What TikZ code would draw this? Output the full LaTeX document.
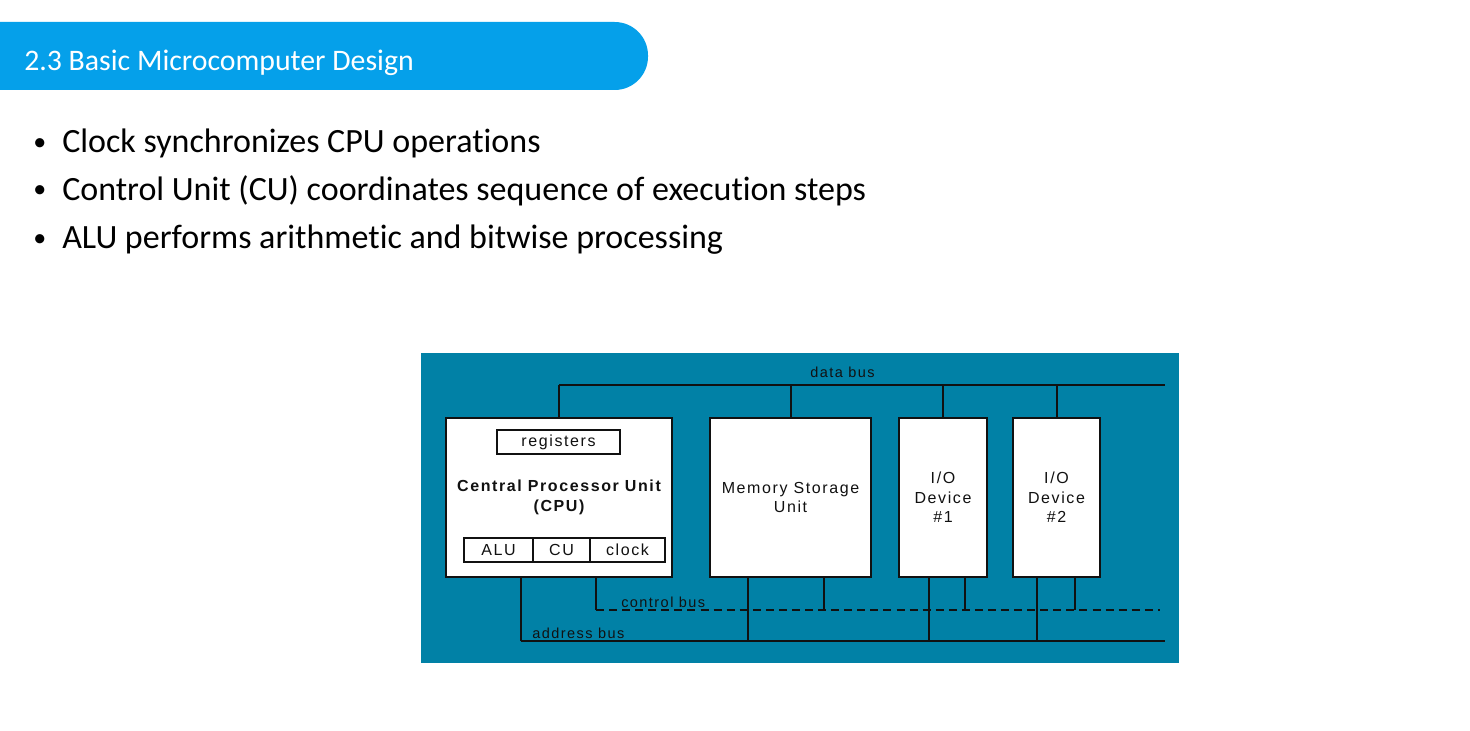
\documentclass[tikz,border=0pt]{standalone}
\usepackage{fontspec}
\setmainfont[Ligatures={NoCommon}]{Carlito}
\newfontfamily\diagfont[LetterSpace=10]{Liberation Sans}
\newfontfamily\diagfontbold[LetterSpace=10]{Liberation Sans Bold}
\definecolor{titleblue}{HTML}{05A0EA}
\definecolor{panel}{HTML}{0181A6}
\definecolor{ink}{HTML}{111111}
\newcommand{\pxsize}[1]{\fontsize{\fpeval{#1*0.75}pt}{\fpeval{#1*0.75*1.22}pt}\selectfont}
\begin{document}
\begin{tikzpicture}[x=0.75pt,y=-0.75pt,
  box/.style={draw=ink,fill=white,line width=1.5pt,inner sep=0pt,
    font=\diagfont\pxsize{16},align=center,text=ink},
  cell/.style={draw=ink,fill=white,line width=1.5pt,inner sep=0pt,
    minimum height=24*0.75pt,font=\diagfont\pxsize{16},text=ink},
  bus/.style={draw=ink,line width=1.5pt},
  ctlbus/.style={draw=ink,line width=1.5pt,dash pattern=on 6pt off 3.8pt},
  buslabel/.style={font=\diagfont\pxsize{14.5},text=ink,anchor=base west,inner sep=0pt},
  bullet/.style={font=\pxsize{34},text=black,anchor=base west,inner sep=0pt}]
\useasboundingbox (0,0) rectangle (1470,731);
\fill[white] (0,0) rectangle (1470,731);

% title bar
\fill[titleblue,rounded corners=25pt] (-60,22) rectangle (648,90);
\node[font=\pxsize{29.8},text=white,anchor=base west,inner sep=0pt] (title) at (24,71) {2.3 Basic Microcomputer Design};

% bullet list
\foreach \y/\t [count=\i] in {153/Clock synchronizes CPU operations,
    200/Control Unit (CU) coordinates sequence of execution steps,
    248/ALU performs arithmetic and bitwise processing}{
  \node[bullet,font=\pxsize{26}] (dot\i) at (33,\y-2) {•};
  \node[bullet] (item\i) at (62,\y) {\t};
}

% diagram panel
\fill[panel] (421,353) rectangle (1179,663);

% units
\node[box,minimum width=226*0.75pt,minimum height=159*0.75pt] (cpu) at (559,497.5) {};
\node[font=\diagfontbold\pxsize{16},text=ink,align=center,inner sep=0pt] (cputext) at (559,497.5)
  {Central Processor Unit\\(CPU)};
\node[cell,minimum width=123*0.75pt] (reg) at (558.5,442) {registers};
\node[cell,minimum width=69*0.75pt] (alu) at (498.5,550) {ALU};
\node[cell,minimum width=57*0.75pt] (cu) at (561.5,550) {CU};
\node[cell,minimum width=75*0.75pt] (clk) at (627.5,550) {clock};

\node[box,minimum width=161*0.75pt,minimum height=159*0.75pt] (mem) at (790.5,497.5)
  {Memory Storage\\Unit};
\node[box,minimum width=88*0.75pt,minimum height=159*0.75pt] (io1) at (943,497.5)
  {I/O\\Device\\\#1};
\node[box,minimum width=87*0.75pt,minimum height=159*0.75pt] (io2) at (1056.5,497.5)
  {I/O\\Device\\\#2};

% bus end points
\coordinate (dbl) at (559,385);
\coordinate (dbr) at (1165,385);
\coordinate (cbl) at (596,609.5);
\coordinate (cbr) at (1160,609.5);
\coordinate (abl) at (521,641);
\coordinate (abr) at (1165,641);

% data bus
\draw[bus] (dbl) -- (dbr);
\foreach \n in {cpu,mem,io1,io2}
  \draw[bus] (\n.north) -- (\n.north |- dbl);
\node[buslabel] (dblab) at (810,377) {data bus};

% control bus
\draw[ctlbus] (cbl) -- (cbr);
\foreach \n/\x in {cpu/596,mem/824,io1/965,io2/1075}{
  \coordinate (c-\n) at (\x,609.5);
  \draw[bus] (\n.south -| c-\n) -- (c-\n);
}
\node[buslabel] (cblab) at (621,607) {control bus};

% address bus
\draw[bus] (abl) -- (abr);
\foreach \n/\x in {cpu/521,mem/748,io1/929,io2/1037}{
  \coordinate (a-\n) at (\x,641);
  \draw[bus] (\n.south -| a-\n) -- (a-\n);
}
\node[buslabel] (ablab) at (532,638.5) {address bus};
\end{tikzpicture}
\end{document}
